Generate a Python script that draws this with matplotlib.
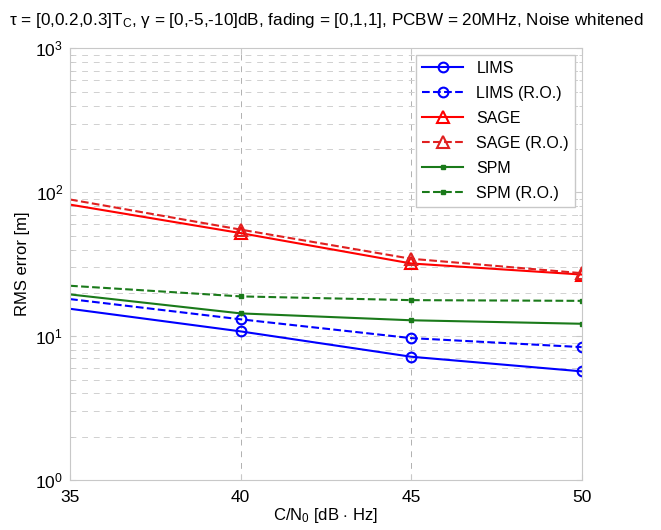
import matplotlib
matplotlib.use("Agg")
import matplotlib.pyplot as plt
import numpy as np

plt.rcParams['font.family'] = ['Liberation Sans', 'DejaVu Sans']
plt.rcParams['mathtext.fontset'] = 'custom'
plt.rcParams['mathtext.rm'] = 'Liberation Sans'
plt.rcParams['mathtext.it'] = 'Liberation Sans:italic'

# C/N0 values [dB-Hz]
cn0 = [35, 40, 45, 50]

# RMS error [m]
lims = [15.5, 10.8, 7.2, 5.7]
lims_ro = [18.1, 13.1, 9.7, 8.4]
sage = [82, 52, 32, 26.8]
sage_ro = [89, 55, 34.5, 27.4]
spm = [19.5, 14.4, 12.9, 12.2]
spm_ro = [22.4, 18.9, 17.8, 17.6]

fig = plt.figure(figsize=(6.61, 5.30), dpi=100)
ax = fig.add_axes([0.106, 0.094, 0.774, 0.815])

mk = [1, 2, 3]  # first point sits on the axis edge, no marker there
ax.plot(cn0, lims, '-', color='b', lw=1.5, marker='o', ms=7, mfc='none', mew=1.5, markevery=mk, label='LIMS')
ax.plot(cn0, lims_ro, '--', color='b', lw=1.5, marker='o', ms=7, mfc='none', mew=1.5, markevery=mk, label='LIMS (R.O.)')
ax.plot(cn0, sage, '-', color='r', lw=1.5, marker='^', ms=8, mfc='none', mew=1.5, markevery=mk, label='SAGE')
ax.plot(cn0, sage_ro, '--', color='#e02020', lw=1.5, marker='^', ms=8, mfc='none', mew=1.5, markevery=mk, label='SAGE (R.O.)')
ax.plot(cn0, spm, '-', color='#1a7a1a', lw=1.5, marker='s', ms=3, markevery=mk, label='SPM')
ax.plot(cn0, spm_ro, '--', color='#1a7a1a', lw=1.5, marker='s', ms=3, markevery=mk, label='SPM (R.O.)')

ax.set_yscale('log')
ax.set_xlim(35, 50)
ax.set_ylim(1, 1000)
ax.set_xticks([35, 40, 45, 50])

ax.grid(True, which='major', axis='x', ls=(0, (6, 6)), color='#b0b0b0', lw=0.7)
ax.grid(True, which='both', axis='y', ls=(0, (6, 6)), color='#d0d0d0', lw=0.7)

for s in ax.spines.values():
    s.set_color('#c8c8c8')
ax.tick_params(which='both', direction='in', top=True, right=True, color='#c8c8c8', labelsize=12.5)
ax.tick_params(which='minor', length=2.5)
ax.tick_params(which='major', length=4)
ax.tick_params(axis='x', pad=7)
ax.tick_params(axis='y', pad=5)

ax.set_xlabel(r'C/N$_\mathrm{0}$ [dB $\cdot$ Hz]', fontsize=12, labelpad=1)
ax.set_ylabel('RMS error [m]', fontsize=12, labelpad=4)
ax.set_title(r'τ = [0,0.2,0.3]T$_\mathrm{C}$, γ = [0,-5,-10]dB, fading = [0,1,1], PCBW = 20MHz, Noise whitened',
             fontsize=12.3, pad=17)

leg = ax.legend(loc='upper right', fontsize=11.5, fancybox=False, framealpha=1,
                edgecolor='#c8c8c8', handlelength=2.6, borderpad=0.4, labelspacing=0.62,
                borderaxespad=0.4)

fig.savefig('out.png', dpi=100)
